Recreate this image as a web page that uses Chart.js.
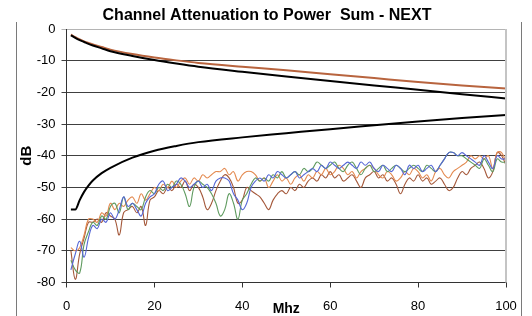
<!DOCTYPE html>
<html>
<head>
<meta charset="utf-8">
<script src="https://cdn.jsdelivr.net/npm/chart.js@4/dist/chart.umd.min.js"></script>
<style>
  html, body { margin: 0; padding: 0; background: #ffffff; }
  #wrap { width: 532px; height: 316px; position: relative; }
</style>
</head>
<body>
<div id="wrap"><canvas id="c" width="532" height="316"></canvas></div>
<script>
// ---- data ----
const chartTitle = "Channel Attenuation to Power  Sum - NEXT";
const xTitle = "Mhz";
const yTitle = "dB";
const xTicks = [0, 20, 40, 60, 80, 100];
const yTicks = [0, -10, -20, -30, -40, -50, -60, -70, -80];

// frequencies of the smooth limit curves
const limitFreq = [1, 2, 3, 4, 5, 6, 8, 10, 15, 20, 25, 30, 40, 50, 60, 70, 80, 90, 100];
const attenuationLimit = [-2.0, -2.8, -3.5, -4.1, -4.7, -5.2, -6.1, -7.0, -8.5, -9.8, -10.9, -11.9, -13.5, -15.0, -16.4, -17.8, -19.2, -20.6, -21.9];
const attenuationMeasured = [-1.8, -2.6, -3.3, -3.9, -4.4, -4.9, -5.7, -6.5, -7.9, -9.0, -9.9, -10.7, -11.9, -13.0, -14.3, -15.5, -16.7, -17.8, -18.8];
const nextLimit = [-57.0, -57.0, -54.0, -51.4, -49.4, -47.8, -45.5, -43.8, -40.6, -38.4, -36.9, -35.7, -34.2, -32.9, -31.6, -30.4, -29.2, -28.1, -27.1];

// frequencies of the measured NEXT traces
const measFreq = [1,2,3,4,5,6,7,8,9,10,11,12,13,14,15,16,17,18,19,20,
  21,22,23,24,25,26,27,28,29,30,31,32,33,34,35,36,37,38,39,40,
  41,42,43,44,45,46,47,48,49,50,51,52,53,54,55,56,57,58,59,60,
  61,62,63,64,65,66,67,68,69,70,71,72,73,74,75,76,77,78,79,80,
  81,82,83,84,85,86,87,88,89,90,91,92,93,94,95,96,97,98,99,100];

const nextBlue = [-76,-71,-67,-72,-66,-62,-63,-60,-61,-58,-60,-57,-53,-56,-55,-57,-59,-55,-53,-52,
  -49,-48,-51,-50,-49,-47,-48,-50,-49,-48,-50,-49,-51,-48,-47,-47,-48,-52,-54,-57,
  -55,-50,-48,-47,-48,-46,-47,-45,-46,-47,-46,-45,-47,-46,-45,-44,-45,-43,-44,-42,
  -43,-44,-43,-42,-43,-44,-42,-43,-42,-44,-45,-43,-44,-45,-43,-44,-46,-43,-44,-43,
  -45,-44,-43,-45,-43,-41,-39,-39,-40,-39,-40,-41,-42,-43,-40,-42,-44,-40,-41,-41];

const nextGreen = [-73,-76,-77,-68,-64,-61,-62,-59,-60,-56,-55,-58,-53,-57,-55,-56,-57,-53,-51,-52,
  -50,-51,-49,-50,-48,-49,-52,-56,-50,-48,-49,-50,-52,-55,-59,-57,-52,-55,-60,-54,
  -52,-49,-47,-48,-47,-48,-46,-47,-45,-47,-46,-45,-46,-44,-45,-44,-42,-43,-44,-43,
  -42,-44,-45,-43,-42,-44,-46,-44,-43,-45,-44,-43,-45,-44,-43,-44,-45,-44,-43,-44,
  -45,-43,-44,-45,-43,-41,-39,-39,-40,-40,-41,-42,-43,-44,-41,-43,-45,-41,-42,-42];

const nextOrange = [-69,-70,-69,-65,-60,-60,-61,-58,-59,-55,-57,-55,-56,-54,-53,-55,-52,-54,-52,-50,
  -51,-49,-50,-48,-50,-48,-47,-49,-47,-48,-46,-47,-46,-45,-45,-44,-46,-45,-48,-46,
  -45,-45,-46,-48,-47,-50,-48,-46,-48,-47,-49,-47,-46,-48,-46,-47,-45,-46,-44,-46,
  -45,-43,-44,-46,-45,-47,-45,-44,-43,-44,-46,-47,-45,-46,-48,-47,-45,-46,-44,-45,
  -47,-46,-48,-45,-44,-46,-47,-45,-44,-43,-42,-40,-41,-40,-41,-40,-44,-39,-39,-42];

const nextBrown = [-70,-79,-71,-66,-61,-61,-60,-61,-58,-59,-60,-65,-58,-57,-56,-58,-56,-62,-54,-53,
  -51,-52,-50,-51,-49,-50,-48,-51,-49,-50,-53,-57,-55,-51,-48,-46,-47,-50,-55,-54,
  -50,-51,-52,-53,-55,-57,-54,-52,-51,-52,-50,-51,-49,-50,-48,-47,-48,-46,-47,-45,
  -47,-46,-48,-47,-46,-48,-50,-47,-46,-45,-47,-46,-48,-47,-49,-52,-49,-47,-48,-46,
  -48,-47,-49,-48,-47,-49,-51,-50,-47,-45,-46,-44,-43,-42,-44,-47,-45,-39,-40,-43];

// ---- build ----
const FONT = '"Liberation Sans", Arial, Helvetica, sans-serif';
const pts = (xs, ys) => xs.map((x, i) => ({ x: x, y: ys[i] }));

const smooth = (label, ys, color) => ({
  label, data: pts(limitFreq, ys), borderColor: color, borderWidth: 2,
  pointRadius: 0, cubicInterpolationMode: 'monotone', fill: false
});
const noisy = (label, ys, color) => ({
  label, data: pts(measFreq, ys), borderColor: color, borderWidth: 1.1,
  pointRadius: 0, tension: 0.4, fill: false
});

const decor = {
  id: 'decor',
  afterDraw(chart) {
    const ctx = chart.ctx, a = chart.chartArea;
    ctx.save();
    // plot area right border
    ctx.strokeStyle = '#c4c4c4';
    ctx.lineWidth = 2;
    ctx.beginPath();
    ctx.moveTo(a.right, a.top); ctx.lineTo(a.right, a.bottom);
    ctx.stroke();
    // outer frame lines
    ctx.strokeStyle = '#7a7a7a';
    ctx.lineWidth = 1;
    ctx.beginPath();
    ctx.moveTo(16.5, 22); ctx.lineTo(16.5, 316);
    ctx.moveTo(521.5, 22); ctx.lineTo(521.5, 316);
    ctx.stroke();
    // title
    ctx.fillStyle = '#000';
    ctx.textAlign = 'center';
    ctx.textBaseline = 'middle';
    ctx.font = 'bold 16px ' + FONT;
    ctx.fillText(chartTitle, 267, 16);
    // x title
    ctx.font = 'bold 14px ' + FONT;
    ctx.fillText(xTitle, (a.left + a.right) / 2, 309);
    // y title
    ctx.translate(27, chart.scales.y.getPixelForValue(-40));
    ctx.rotate(-Math.PI / 2);
    ctx.font = 'bold 15px ' + FONT;
    ctx.fillText(yTitle, 0, 0);
    ctx.restore();
  }
};

new Chart(document.getElementById('c'), {
  type: 'line',
  data: {
    datasets: [
      smooth('Attenuation limit', attenuationLimit, '#000000'),
      smooth('NEXT limit', nextLimit, '#000000'),
      smooth('Attenuation', attenuationMeasured, '#b8643e'),
      noisy('NEXT 1', nextBlue, '#5566d6'),
      noisy('NEXT 2', nextGreen, '#5e9a5e'),
      noisy('NEXT 3', nextOrange, '#e48a50'),
      noisy('NEXT 4', nextBrown, '#a4583a')
    ]
  },
  options: {
    responsive: false,
    animation: false,
    devicePixelRatio: 1,
    layout: { padding: { left: 16, right: 26, top: 29, bottom: 0 } },
    plugins: { legend: { display: false }, title: { display: false }, tooltip: { enabled: false } },
    scales: {
      x: {
        type: 'linear', min: 0, max: 100,
        afterBuildTicks: s => { s.ticks = xTicks.map(v => ({ value: v })); },
        afterFit: s => { s.height = 33.5; },
        ticks: { color: '#000', font: { family: FONT, size: 13 }, padding: 11, maxRotation: 0 },
        grid: { drawOnChartArea: false, drawTicks: true, tickLength: 5, color: '#333' },
        border: { color: '#333', width: 1 }
      },
      y: {
        min: -80, max: 0,
        afterBuildTicks: s => { s.ticks = yTicks.map(v => ({ value: v })); },
        afterFit: s => { s.width = 50.5; },
        ticks: { color: '#000', font: { family: FONT, size: 13 }, padding: 6 },
        grid: {
          tickLength: 5,
          color: c => (c.tick && c.tick.value === 0) ? '#b4b4b4' : '#404040',
          lineWidth: 1
        },
        border: { color: '#333', width: 1 }
      }
    }
  },
  plugins: [decor]
});
</script>
</body>
</html>
